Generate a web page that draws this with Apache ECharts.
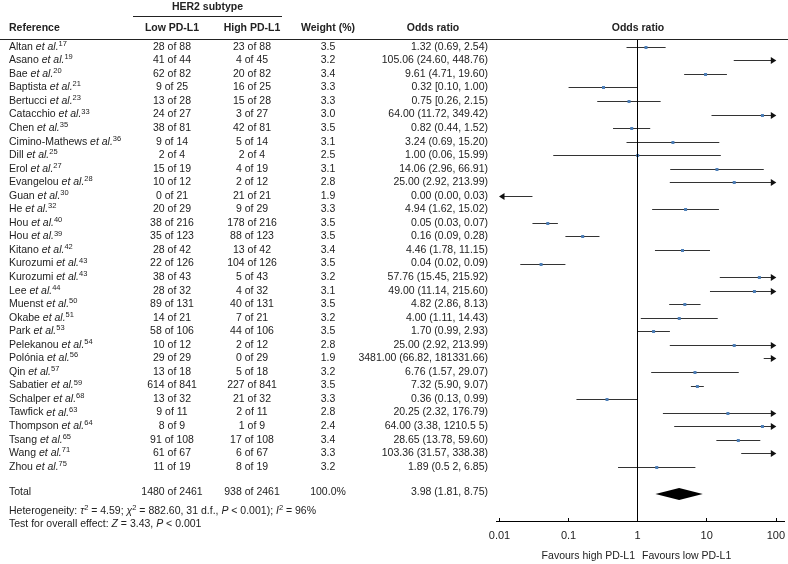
<!DOCTYPE html>
<html>
<head>
<meta charset="utf-8">
<script src="https://cdn.jsdelivr.net/npm/echarts@6/dist/echarts.min.js"></script>
<style>html,body{margin:0;padding:0;background:#fff}#chart{width:788px;height:564px}</style>
</head>
<body>
<div id="chart"></div>
<script>
// ---- data ----
const refNames = ['Altan','Asano','Bae','Baptista','Bertucci','Catacchio','Chen','Cimino-Mathews','Dill','Erol','Evangelou','Guan','He','Hou','Hou','Kitano','Kurozumi','Kurozumi','Lee','Muenst','Okabe','Park','Pelekanou','Polónia','Qin','Sabatier','Schalper','Tawfick','Thompson','Tsang','Wang','Zhou'];
const refNums = [17,19,20,21,23,33,35,36,25,27,28,30,32,40,39,42,43,43,44,50,51,53,54,56,57,59,68,63,64,65,71,75];
const lowEvents = [28,41,62,9,13,24,38,9,2,15,10,0,20,38,35,28,22,38,28,89,14,58,10,29,13,614,13,9,8,91,61,11];
const lowTotal  = [88,44,82,25,28,27,81,14,4,19,12,21,29,216,123,42,126,43,32,131,21,106,12,29,18,841,32,11,9,108,67,19];
const highEvents = [23,4,20,16,15,3,42,5,2,4,2,21,9,178,88,13,104,5,4,40,7,44,2,0,5,227,21,2,1,17,6,8];
const highTotal  = [88,45,82,25,28,27,81,14,4,19,12,21,29,216,123,42,126,43,32,131,21,106,12,29,18,841,32,11,9,108,67,19];
const weights = [3.5,3.2,3.4,3.3,3.3,3.0,3.5,3.1,2.5,3.1,2.8,1.9,3.3,3.5,3.5,3.4,3.5,3.2,3.1,3.5,3.2,3.5,2.8,1.9,3.2,3.5,3.3,2.8,2.4,3.4,3.3,3.2];
const oddsRatio = [1.32,105.06,9.61,0.32,0.75,64.00,0.82,3.24,1.00,14.06,25.00,0.00,4.94,0.05,0.16,4.46,0.04,57.76,49.00,4.82,4.00,1.70,25.00,3481.00,6.76,7.32,0.36,20.25,64.00,28.65,103.36,1.89];
const ciLow  = [0.69,24.60,4.71,0.10,0.26,11.72,0.44,0.69,0.06,2.96,2.92,0.00,1.62,0.03,0.09,1.78,0.02,15.45,11.14,2.86,1.11,0.99,2.92,66.82,1.57,5.90,0.13,2.32,3.38,13.78,31.57,0.52];
const ciHigh = [2.54,448.76,19.60,1.00,2.15,349.42,1.52,15.20,15.99,66.91,213.99,0.03,15.02,0.07,0.28,11.15,0.09,215.92,215.60,8.13,14.43,2.93,213.99,181331.66,29.07,9.07,0.99,176.79,1210.55,59.60,338.38,6.85];
const orText = ['1.32 (0.69, 2.54)','105.06 (24.60, 448.76)','9.61 (4.71, 19.60)','0.32 [0.10, 1.00)','0.75 [0.26, 2.15)','64.00 (11.72, 349.42)','0.82 (0.44, 1.52)','3.24 (0.69, 15.20)','1.00 (0.06, 15.99)','14.06 (2.96, 66.91)','25.00 (2.92, 213.99)','0.00 (0.00, 0.03)','4.94 (1.62, 15.02)','0.05 (0.03, 0.07)','0.16 (0.09, 0.28)','4.46 (1.78, 11.15)','0.04 (0.02, 0.09)','57.76 (15.45, 215.92)','49.00 (11.14, 215.60)','4.82 (2.86, 8.13)','4.00 (1.11, 14.43)','1.70 (0.99, 2.93)','25.00 (2.92, 213.99)','3481.00 (66.82, 181331.66)','6.76 (1.57, 29.07)','7.32 (5.90, 9.07)','0.36 (0.13, 0.99)','20.25 (2.32, 176.79)','64.00 (3.38, 1210.5 5)','28.65 (13.78, 59.60)','103.36 (31.57, 338.38)','1.89 (0.5 2, 6.85)'];
const totalLowEvents = 1480, totalLowN = 2461, totalHighEvents = 938, totalHighN = 2461;
const totalWeight = '100.0%';
const totalOR = 3.98, totalLo = 1.81, totalHi = 8.75;
const totalText = '3.98 (1.81, 8.75)';
const xTicks = [0.01, 0.1, 1, 10, 100];
const totalRow = 33;

// ---- style ----
const FONT = "'Liberation Sans', Arial, Helvetica, sans-serif";
const TXT = '#222';
const FS = 10.5;
const AX_MIN = 0.01, AX_MAX = 100;
const COL_LOW = 172, COL_HIGH = 252, COL_W = 328, COL_OR = 488, COL_REF = 9;

const rich = {
  n: {fontSize: FS, fontFamily: FONT, color: TXT, lineHeight: 14},
  i: {fontSize: FS, fontFamily: FONT, color: TXT, fontStyle: 'italic', lineHeight: 14},
  s: {fontSize: 7.5, fontFamily: FONT, color: TXT, verticalAlign: 'top'}
};
function txt(x, y, text, align, extra) {
  return Object.assign({type: 'text', x: x, y: y, style: {text: text, fill: TXT, fontSize: FS, fontFamily: FONT, align: align || 'center', verticalAlign: 'middle'}}, extra || {});
}

const chart = echarts.init(document.getElementById('chart'), null, {renderer: 'canvas'});

const ciData = oddsRatio.map((v, i) => [v, i, ciLow[i], ciHigh[i]]);
const tableData = refNames.map((r, i) => [1, i]);

function ciItem(params, api) {
  const or = api.value(0), row = api.value(1), lo = api.value(2), hi = api.value(3);
  const y = Math.round(api.coord([1, row])[1]) + 0.5;
  const xmin = api.coord([AX_MIN, row])[0], xmax = api.coord([AX_MAX, row])[0];
  const x1 = lo >= AX_MIN ? api.coord([lo, row])[0] : xmin;
  const x2 = hi <= AX_MAX ? api.coord([hi, row])[0] : xmax;
  const children = [];
  const ls = {stroke: '#333', lineWidth: 1};
  children.push({type: 'line', shape: {x1: lo < AX_MIN ? x1 + 4 : x1, y1: y, x2: hi > AX_MAX ? x2 - 4 : x2, y2: y}, style: ls});
  if (hi > AX_MAX) children.push({type: 'polygon', shape: {points: [[xmax + 0.5, y], [xmax - 5, y - 3.5], [xmax - 5, y + 3.5]]}, style: {fill: '#111'}});
  if (lo < AX_MIN) children.push({type: 'polygon', shape: {points: [[xmin - 0.5, y], [xmin + 5, y - 3.5], [xmin + 5, y + 3.5]]}, style: {fill: '#111'}});
  if (or > 0 && or >= AX_MIN && or <= AX_MAX) {
    const px = api.coord([or, row])[0];
    children.push({type: 'rect', shape: {x: px - 1.5, y: y - 1.5, width: 3, height: 3}, style: {fill: '#4d7fb8'}});
  }
  return {type: 'group', children: children};
}

function tableItem(params, api) {
  const i = params.dataIndex;
  const y = api.coord([1, api.value(1)])[1];
  return {type: 'group', children: [
    {type: 'text', x: COL_REF, y: y, style: {text: '{n|' + refNames[i] + ' }{i|et al.}{s|' + refNums[i] + '}', rich: rich, fill: TXT, fontSize: FS, fontFamily: FONT, align: 'left', verticalAlign: 'middle'}},
    txt(COL_LOW, y, lowEvents[i] + ' of ' + lowTotal[i]),
    txt(COL_HIGH, y, highEvents[i] + ' of ' + highTotal[i]),
    txt(COL_W, y, weights[i].toFixed(1)),
    txt(COL_OR, y, orText[i], 'right')
  ]};
}

function totalItem(params, api) {
  const or = api.value(0), row = api.value(1), lo = api.value(2), hi = api.value(3);
  const y = api.coord([1, row])[1];
  const xo = api.coord([or, row])[0], xl = api.coord([lo, row])[0], xh = api.coord([hi, row])[0];
  return {type: 'group', children: [
    {type: 'polygon', shape: {points: [[xl, y], [xo, y - 6], [xh, y], [xo, y + 6]]}, style: {fill: '#000'}},
    txt(COL_REF, y - 2, 'Total', 'left'),
    txt(COL_LOW, y - 2, totalLowEvents + ' of ' + totalLowN),
    txt(COL_HIGH, y - 2, totalHighEvents + ' of ' + totalHighN),
    txt(COL_W, y - 2, totalWeight),
    txt(COL_OR, y - 2, totalText, 'right')
  ]};
}

const hdr = (x, y, t, align) => ({type: 'text', x: x, y: y, style: {text: t, fill: TXT, font: 'bold ' + FS + 'px ' + FONT, align: align || 'center', verticalAlign: 'middle'}});

const option = {
  animation: false,
  backgroundColor: '#fff',
  grid: {left: 499.5, right: 10.5, top: 40, bottom: 43},
  xAxis: {
    type: 'log', logBase: 10, min: AX_MIN, max: AX_MAX,
    axisLine: {onZero: false, lineStyle: {color: '#000', width: 1}},
    axisTick: {inside: true, length: 3, lineStyle: {color: '#000'}},
    splitLine: {show: false},
    axisLabel: {color: TXT, fontSize: 11, fontFamily: FONT, margin: 9,
      formatter: v => { const k = xTicks.find(t => Math.abs(Math.log10(t) - Math.log10(v)) < 1e-6); return k !== undefined ? String(k) : ''; }}
  },
  yAxis: {type: 'value', inverse: true, min: -0.5, max: 35, show: false},
  graphic: [
    hdr(207.5, 7, 'HER2 subtype'),
    {type: 'line', shape: {x1: 133, y1: 16.5, x2: 282, y2: 16.5}, style: {stroke: '#222', lineWidth: 1}},
    hdr(COL_REF, 28, 'Reference', 'left'),
    hdr(COL_LOW, 28, 'Low PD-L1'),
    hdr(COL_HIGH, 28, 'High PD-L1'),
    hdr(COL_W, 28, 'Weight (%)'),
    hdr(433, 28, 'Odds ratio'),
    hdr(638, 28, 'Odds ratio'),
    {type: 'line', shape: {x1: 0, y1: 39.5, x2: 788, y2: 39.5}, style: {stroke: '#222', lineWidth: 1}},
    {type: 'line', shape: {x1: 496, y1: 521.5, x2: 785, y2: 521.5}, style: {stroke: '#000', lineWidth: 1}},
    {type: 'text', x: COL_REF, y: 511, style: {text: '{n|Heterogeneity: }{i|τ}{s|2}{n| = 4.59; }{i|χ}{s|2}{n| = 882.60, 31 d.f., }{i|P}{n| < 0.001); }{i|I}{s|2}{n| = 96%}', rich: rich, fill: TXT, fontSize: FS, fontFamily: FONT, align: 'left', verticalAlign: 'middle'}},
    {type: 'text', x: COL_REF, y: 524, style: {text: '{n|Test for overall effect: }{i|Z}{n| = 3.43, }{i|P}{n| < 0.001}', rich: rich, fill: TXT, fontSize: FS, fontFamily: FONT, align: 'left', verticalAlign: 'middle'}},
    {type: 'text', x: 635, y: 556, style: {text: 'Favours high PD-L1', fill: TXT, fontSize: FS, fontFamily: FONT, align: 'right', verticalAlign: 'middle'}},
    {type: 'text', x: 642, y: 556, style: {text: 'Favours low PD-L1', fill: TXT, fontSize: FS, fontFamily: FONT, align: 'left', verticalAlign: 'middle'}}
  ],
  series: [
    {type: 'custom', name: 'ci', data: ciData, encode: {x: 0, y: 1}, renderItem: ciItem, z: 3,
     markLine: {silent: true, symbol: 'none', label: {show: false}, lineStyle: {color: '#000', width: 1, type: 'solid'}, data: [{xAxis: 1}]}},
    {type: 'custom', name: 'table', data: tableData, encode: {x: 0, y: 1}, renderItem: tableItem},
    {type: 'custom', name: 'total', data: [[totalOR, totalRow, totalLo, totalHi]], encode: {x: 0, y: 1}, renderItem: totalItem}
  ]
};
chart.setOption(option);
</script>
</body>
</html>
